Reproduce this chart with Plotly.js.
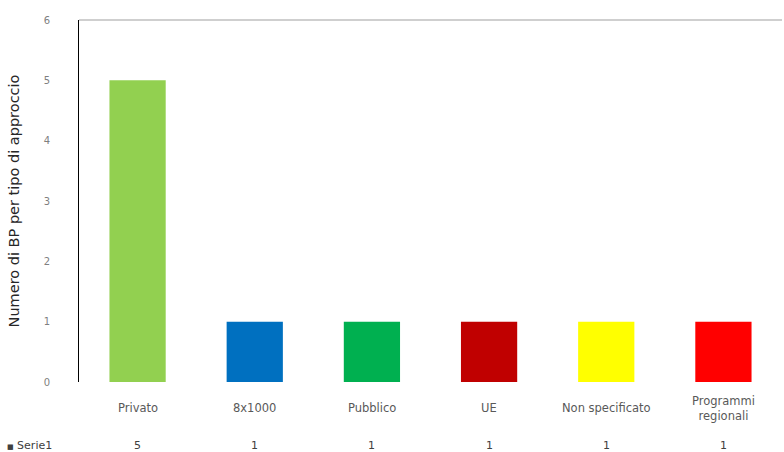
<!DOCTYPE html>
<html>
<head>
<meta charset="utf-8">
<script src="https://cdn.plot.ly/plotly-3.0.1.min.js"></script>
<style>html,body{margin:0;padding:0;background:#fff;}#chart{width:784px;height:452px;}</style>
</head>
<body>
<div id="chart"></div>
<script>
const categories = ["Privato", "8x1000", "Pubblico", "UE", "Non specificato", "Programmi regionali"];
const categoryLabels = ["Privato", "8x1000", "Pubblico", "UE", "Non specificato", "Programmi<br>regionali"];
const values = [5, 1, 1, 1, 1, 1];
const colors = ["#92D050", "#0070C0", "#00B050", "#C00000", "#FFFF00", "#FF0000"];
const seriesName = "Serie1";
const yTitle = "Numero di BP per tipo di approccio";

const font = "DejaVu Sans, sans-serif";
const plotH = 452 - 20 - 70;
const plotW = 784 - 79 - 2;

const annotations = [];
categories.forEach((c, i) => {
  annotations.push({
    x: c, xref: "x", y: -26 / plotH, yref: "paper", yanchor: "middle",
    text: categoryLabels[i], showarrow: false,
    font: {family: font, size: 11.5, color: "#595959"}
  });
  annotations.push({
    x: c, xref: "x", y: -63 / plotH, yref: "paper", yanchor: "middle",
    text: String(values[i]), showarrow: false,
    font: {family: font, size: 11, color: "#404040"}
  });
});
annotations.push({
  x: -74 / plotW, xref: "paper", y: -63 / plotH, yref: "paper", xanchor: "left", yanchor: "middle",
  text: "<span style='font-size:7px'>■</span> " + seriesName, showarrow: false,
  font: {family: font, size: 11, color: "#404040"}
});

const trace = {
  type: "bar", x: categories, y: values, name: seriesName,
  marker: {color: colors},
  width: 0.48, hoverinfo: "skip"
};

const layout = {
  width: 784, height: 452,
  margin: {l: 79, r: 2, t: 20, b: 70},
  paper_bgcolor: "#fff", plot_bgcolor: "#fff",
  showlegend: false,
  xaxis: {
    type: "category", showgrid: false, zeroline: false, showline: false,
    ticks: "", showticklabels: false
  },
  yaxis: {
    range: [0, 6], dtick: 1, showgrid: false, zeroline: false,
    showline: true, linecolor: "#000", linewidth: 1,
    ticks: "", ticklabelstandoff: 26,
    tickfont: {family: font, size: 10, color: "#7f7f7f"},
    title: {text: yTitle, font: {family: font, size: 14.5, color: "#262626"}, standoff: 20}
  },
  shapes: [{type: "line", xref: "paper", yref: "paper", x0: 0, x1: 1, y0: 1, y1: 1,
            line: {color: "#bfbfbf", width: 1.5}}],
  annotations: annotations
};

Plotly.newPlot("chart", [trace], layout, {displayModeBar: false, staticPlot: true});
</script>
</body>
</html>
